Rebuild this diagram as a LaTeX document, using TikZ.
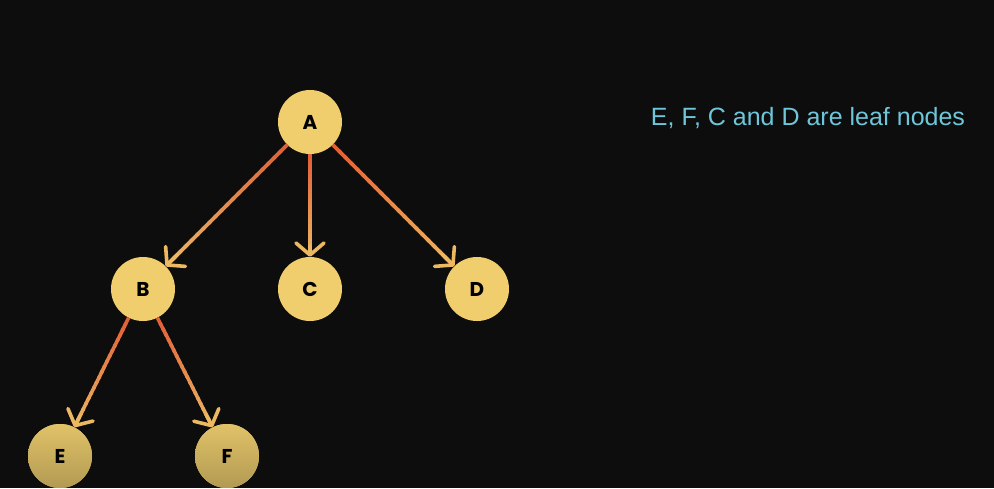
\documentclass[tikz,border=0pt]{standalone}
\usepackage{fontspec}
\setsansfont{Poppins}
\newfontfamily\leaffont{Liberation Sans}
\usetikzlibrary{arrows.meta,calc}
\definecolor{bg}{HTML}{0D0D0D}
\definecolor{nodey}{RGB}{240,206,110}
\definecolor{edgeA}{RGB}{226,96,56}
\definecolor{edgeB}{RGB}{236,184,98}
\definecolor{leafcol}{RGB}{110,198,218}
\definecolor{leaftop}{RGB}{224,194,104}
\definecolor{leafbot}{RGB}{178,154,82}
\tikzset{
  vert/.style={circle, fill=nodey, minimum size=64pt, inner sep=0pt,
    font=\sffamily\bfseries\fontsize{20}{20}\selectfont, text=black},
  leafvert/.style={vert, top color=leaftop, bottom color=leafbot},
  edgeline/.style={line width=3.6pt},
}
\newcommand\gradedge[2]{%
  \path (#1) -- (#2) coordinate[pos=0] (s) coordinate[pos=1] (t);
  \foreach \i in {0,...,19}{%
    \pgfmathsetmacro\pa{\i/20*0.97}%
    \pgfmathsetmacro\pb{(\i+1.4)/20*0.97}%
    \pgfmathtruncatemacro\pct{100-\i*5}%
    \draw[edgeline, color=edgeA!\pct!edgeB] ($(s)!\pa!(t)$) -- ($(s)!\pb!(t)$);
  }
  \draw[edgeline, edgeB, line cap=round, line join=round,
    -{Straight Barb[length=12pt,width=28pt,round]}] ($(s)!0.9!(t)$) -- (t);
}
\begin{document}
\begin{tikzpicture}[x=1pt,y=-1pt]
  \useasboundingbox (0,0) rectangle (994,488);
  \fill[bg] (0,0) rectangle (994,488);
  \node[vert] (A) at (310,122) {A};
  \node[vert] (B) at (143,289) {B};
  \node[vert] (C) at (310,289) {C};
  \node[vert] (D) at (477,289) {D};
  \node[leafvert] (E) at (60,456) {E};
  \node[leafvert] (F) at (227,456) {F};
  \gradedge{A}{B}
  \gradedge{A}{C}
  \gradedge{A}{D}
  \gradedge{B}{E}
  \gradedge{B}{F}
  \node[text=leafcol, font=\leaffont\fontsize{25}{25}\selectfont, inner sep=0pt] (note) at (808,118) {E, F, C and D are leaf nodes};
\end{tikzpicture}
\end{document}
